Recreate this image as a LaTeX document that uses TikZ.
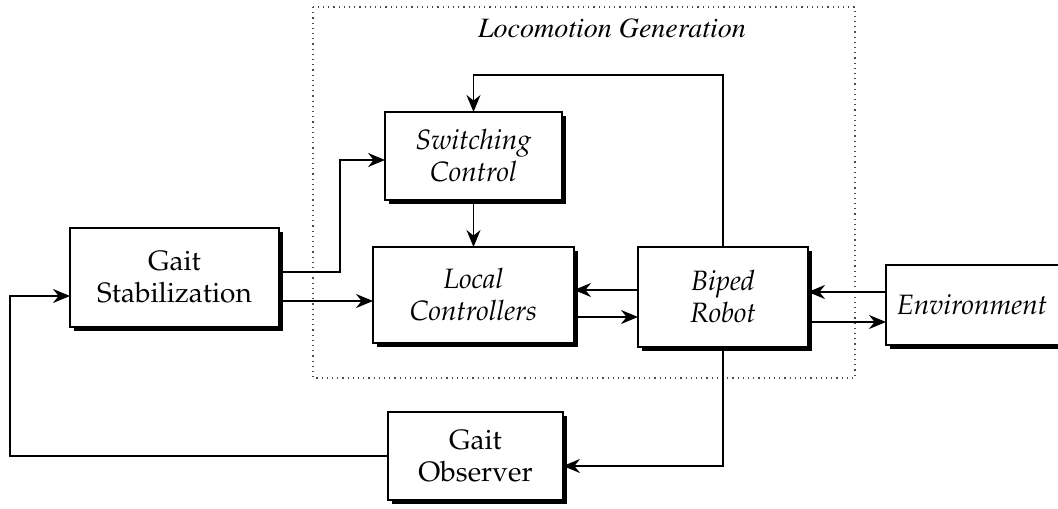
\documentclass[tikz,border=0pt]{standalone}
\usepackage[T1]{fontenc}
\usepackage{mathpazo}
\usetikzlibrary{arrows.meta,calc,shadows}

\tikzset{
  block/.style={draw=black, line width=1.1pt, fill=white, align=center,
    inner sep=0pt, outer sep=0pt,
    font=\fontsize{14}{16}\selectfont,
    drop shadow={shadow xshift=1.8pt, shadow yshift=-1.8pt, opacity=1, fill=black}},
  openblock/.style={draw=none, fill=none, align=center, inner sep=0pt, outer sep=0pt,
    font=\fontsize{14}{16}\selectfont},
  arr/.style={line width=0.95pt, -{Stealth[length=8.5pt,width=7pt,inset=2.8pt]}},
  group/.style={draw=black!70, dotted, line width=0.6pt},
}

\begin{document}
\begin{tikzpicture}[x=0.5pt, y=-0.5pt]
  \useasboundingbox (0,0) rectangle (1058,508);
  \begin{scope}
  \clip (0,0) rectangle (1058,508);

  % dotted frame of the locomotion generation group
  \draw[group] (313,7) rectangle (855,378);
  \node (title) at (612,28) {\fontsize{14}{16}\selectfont\fontfamily{ptm}\itshape Locomotion Generation};

  % blocks
  \node[block, minimum width=104.5pt, minimum height=49.5pt] (stab) at (174.5,277.5) {Gait\\Stabilization};
  \node[block, minimum width=88.5pt, minimum height=44pt] (sw) at (473.5,156) {\itshape Switching\\\itshape Control};
  \node[block, minimum width=100.5pt, minimum height=48pt] (loc) at (473.5,295) {\itshape Local\\\itshape Controllers};
  \node[block, minimum width=85pt, minimum height=50pt] (bip) at (723,297) {\itshape Biped\\\itshape Robot};
  \node[block, minimum width=87.5pt, minimum height=44pt] (obs) at (475.5,456) {Gait\\Observer};

  % environment block: open on its right side, where it leaves the page
  \node[openblock, minimum width=100pt, minimum height=40pt] (env) at (986,305) {\hspace*{-14pt}\itshape Environment};
  \fill[black] ($(env.south west)+(3.6,0)$) rectangle ($(env.south east)+(0,3.6)$);
  \draw[line width=1.1pt] (env.north east) -- (env.north west) -- (env.south west) -- (env.south east);

  % connections
  \draw[arr] ($(stab.east)+(0,-5.5)$) -- ++(61,0) |- ($(sw.west)+(0,4)$);
  \draw[arr] ($(stab.east)+(0,23.5)$) -- ($(loc.west)+(0,6)$);
  \draw[arr] (sw.south) -- (loc.north);
  \draw[arr] ($(bip.west)+(0,-7)$) -- ($(loc.east)+(0,-5)$);
  \draw[arr] ($(loc.east)+(0,22)$) -- ($(bip.west)+(0,20)$);
  \draw[arr] ($(env.west)+(0,-13)$) -- ($(bip.east)+(0,-5)$);
  \draw[arr] ($(bip.east)+(0,25)$) -- ($(env.west)+(0,17)$);
  \draw[arr] (bip.north) -- ++(0,-172) -| (sw.north);
  \draw[arr] (bip.south) |- ($(obs.east)+(0,10)$);
  \draw[arr] (obs.west) -- ++(-378,0) |- ($(stab.west)+(0,18.5)$);
  \end{scope}
\end{tikzpicture}
\end{document}
